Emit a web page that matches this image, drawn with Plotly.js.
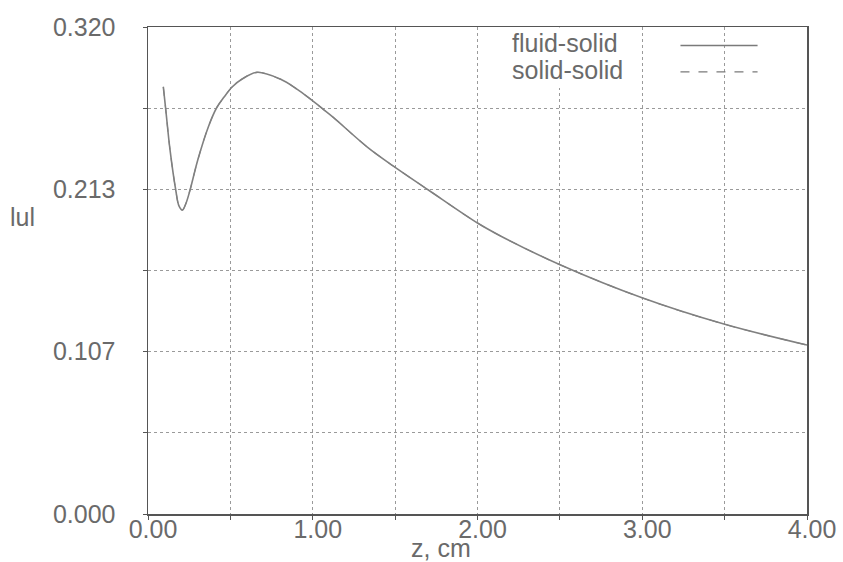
<!DOCTYPE html>
<html>
<head>
<meta charset="utf-8">
<script src="https://cdn.plot.ly/plotly-3.0.1.min.js"></script>
<style>html,body{margin:0;padding:0;background:#fff;}#chart{width:843px;height:562px;}</style>
</head>
<body>
<div id="chart"></div>
<script>
// Data
const zValues = [0.0930, 0.1076, 0.1337, 0.1684, 0.1880, 0.2085, 0.2300, 0.2553, 0.3021, 0.3666, 0.4176, 0.4620, 0.5106, 0.5714, 0.6608, 0.8024, 0.9040, 0.9848, 1.0638, 1.1246, 1.3313, 1.4894, 1.7021, 2.0000, 2.1398, 2.5046, 3.0030, 3.4954, 4.0];
const fluidSolid = [0.2807, 0.2659, 0.2392, 0.2129, 0.2025, 0.1997, 0.2040, 0.2129, 0.2326, 0.2545, 0.2671, 0.2740, 0.2806, 0.2858, 0.2902, 0.2858, 0.2792, 0.2727, 0.2659, 0.2606, 0.2411, 0.2286, 0.2129, 0.1912, 0.1827, 0.1636, 0.1419, 0.1248, 0.1110];
const solidSolid = fluidSolid.slice();
const seriesNames = ['fluid-solid', 'solid-solid'];
const xTickVals = [0, 0.5, 1, 1.5, 2, 2.5, 3, 3.5, 4];
const xTickText = ['0.00', '', '1.00', '', '2.00', '', '3.00', '', '4.00'];
const yTickVals = [0, 0.32/6, 0.32*2/6, 0.32*3/6, 0.32*4/6, 0.32*5/6, 0.32];
const yTickText = ['0.000', '', '0.107', '', '0.213', '', '0.320'];

const ink = '#6a6a6a';
const fontFam = 'Liberation Sans, Arial, Helvetica, sans-serif';

const traces = [
  {x: zValues, y: fluidSolid, name: seriesNames[0], mode: 'lines', line: {color: '#808080', width: 1.6, shape: 'spline', smoothing: 1}},
  {x: zValues, y: solidSolid, name: seriesNames[1], mode: 'lines', line: {color: '#808080', width: 1.1, dash: 'dash', shape: 'spline', smoothing: 1}}
];

const axisCommon = {
  showline: true, mirror: true, linecolor: '#555', linewidth: 1.5,
  showgrid: true, gridcolor: '#9a9a9a', griddash: 'dot', gridwidth: 1,
  zeroline: false, ticks: 'outside', ticklen: 4, tickcolor: '#555',
  tickfont: {family: fontFam, size: 25, color: ink},
  tickmode: 'array'
};

const layout = {
  width: 843, height: 562,
  margin: {l: 148, r: 36, t: 27, b: 48},
  paper_bgcolor: '#fff', plot_bgcolor: '#fff',
  showlegend: false,
  xaxis: Object.assign({}, axisCommon, {range: [0, 4], tickvals: xTickVals, ticktext: xTickText, ticklabelstandoff: -12, ticklabelshift: 5}),
  yaxis: Object.assign({}, axisCommon, {range: [0, 0.32], tickvals: yTickVals, ticktext: yTickText, ticklabelstandoff: 22}),
  annotations: [
    {xref: 'paper', yref: 'paper', x: 0.549, y: 0.967, xanchor: 'left', yanchor: 'middle', text: seriesNames[0], showarrow: false, bgcolor: '#ffffff', font: {family: fontFam, size: 25, color: ink}},
    {xref: 'paper', yref: 'paper', x: 0.549, y: 0.912, xanchor: 'left', yanchor: 'middle', text: seriesNames[1], showarrow: false, bgcolor: '#ffffff', font: {family: fontFam, size: 25, color: ink}},
    {xref: 'paper', yref: 'paper', x: 0.0, xshift: -126, y: 0.61, xanchor: 'center', yanchor: 'middle', text: 'lul', showarrow: false, font: {family: fontFam, size: 25, color: ink}},
    {xref: 'paper', yref: 'paper', x: 0.445, y: 0, yshift: -34, xanchor: 'center', yanchor: 'middle', text: 'z, cm', showarrow: false, font: {family: fontFam, size: 25, color: ink}}
  ],
  shapes: [
    {type: 'rect', xref: 'paper', yref: 'paper', x0: 0.541, x1: 0.733, y0: 0.875, y1: 0.997, layer: 'above', fillcolor: '#ffffff', opacity: 1, line: {width: 0, color: 'rgba(0,0,0,0)'}},
    {type: 'line', xref: 'paper', yref: 'paper', x0: 0.808, x1: 0.925, y0: 0.962, y1: 0.962, line: {color: '#7a7a7a', width: 1.5}},
    {type: 'line', xref: 'paper', yref: 'paper', x0: 0.808, x1: 0.925, y0: 0.908, y1: 0.908, line: {color: '#7a7a7a', width: 1.2, dash: 'dash'}}
  ]
};

Plotly.newPlot('chart', traces, layout, {displayModeBar: false, staticPlot: true});
</script>
</body>
</html>
